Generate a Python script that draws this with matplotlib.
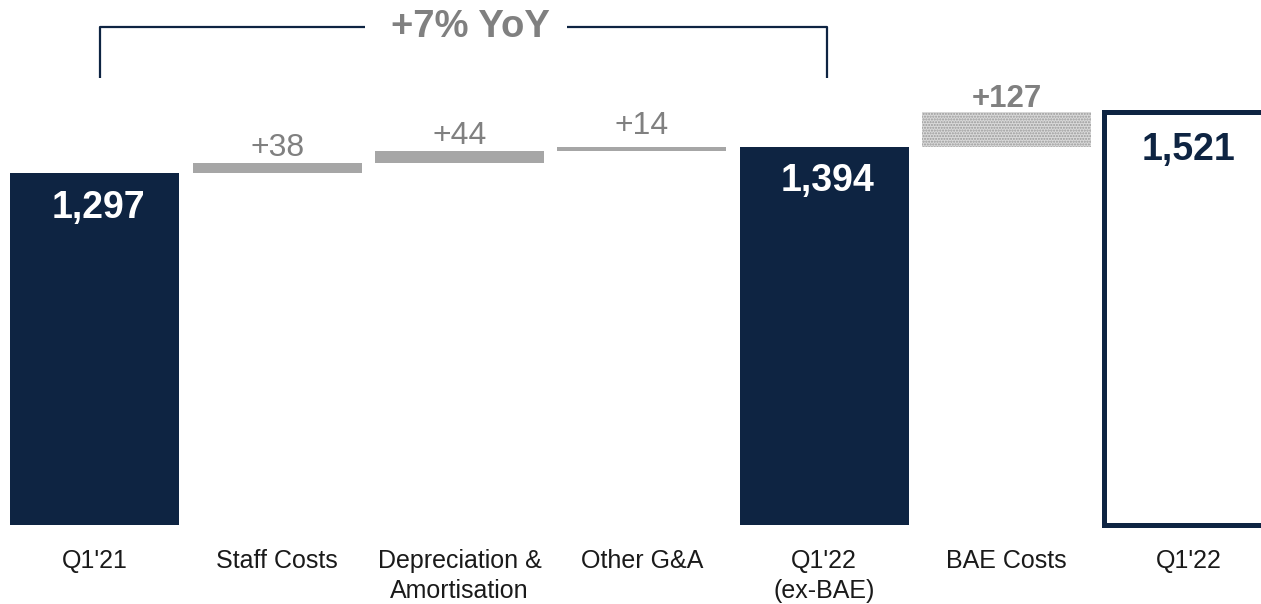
import numpy as np
import matplotlib.pyplot as plt

plt.rcParams['font.family'] = ['Liberation Sans', 'DejaVu Sans']

categories = ["Q1'21", "Staff Costs", "Depreciation &\nAmortisation", "Other G&A",
              "Q1'22\n(ex-BAE)", "BAE Costs", "Q1'22"]
totals = {0: 1297, 4: 1394, 6: 1521}
deltas = {1: 38, 2: 44, 3: 14, 5: 127}
delta_labels = {1: "+38", 2: "+44", 3: "+14", 5: "+127"}
total_labels = {0: "1,297", 4: "1,394", 6: "1,521"}
yoy_label = "+7% YoY"

navy = '#0E2442'
grey_bar = '#A6A6A6'
grey_text = '#808080'

fig = plt.figure(figsize=(12.61, 6.04), dpi=100)
ax = fig.add_axes([0, 0, 1, 1])
ax.set_xlim(-0.521, 6.396)
ax.set_ylim(-291, 1934)
ax.axis('off')

width = 0.927
x = np.arange(len(categories))

# floating bottoms for the delta bars
running = 0
bottoms = {}
for i in range(len(categories)):
    if i in totals:
        running = totals[i]
    else:
        bottoms[i] = running
        running += deltas[i]

for i in totals:
    if i == 6:
        ax.bar(x[i], totals[i], width=width, color='white', edgecolor=navy, linewidth=3.6)
        ax.annotate(total_labels[i], (x[i], totals[i]), xytext=(0, -27), textcoords='offset points',
                    ha='center', va='center', fontsize=27, fontweight='bold', color=navy)
    else:
        ax.bar(x[i], totals[i], width=width, color=navy, linewidth=0)
        ax.annotate(total_labels[i], (x[i], totals[i]), xytext=(2.5, -25), textcoords='offset points',
                    ha='center', va='center', fontsize=27, fontweight='bold', color='white')

label_gap = {1: 5, 2: 5, 3: 9, 5: 3.6}
for i in deltas:
    top = bottoms[i] + deltas[i]
    if i == 5:
        ax.bar(x[i], deltas[i], bottom=bottoms[i], width=width, color='#dadada',
               edgecolor='#999999', hatch='......', linewidth=0)
        ax.annotate(delta_labels[i], (x[i], top), xytext=(0, label_gap[i]), textcoords='offset points',
                    ha='center', va='baseline', fontsize=22.5, fontweight='bold', color=grey_text)
    else:
        ax.bar(x[i], deltas[i], bottom=bottoms[i], width=width, color=grey_bar, linewidth=0)
        ax.annotate(delta_labels[i], (x[i], top), xytext=(0, label_gap[i]), textcoords='offset points',
                    ha='center', va='baseline', fontsize=23, color=grey_text)

for i, cat in enumerate(categories):
    ax.annotate(cat, (x[i], 0), xytext=(0, -17), textcoords='offset points',
                ha='center', va='top', fontsize=18, color='#1a1a1a', linespacing=1.32)

# YoY bracket between Q1'21 and Q1'22 (ex-BAE)
br_top, br_bot = 1834, 1646
xl, xr = x[0] + 0.027, x[4] + 0.016
ax.plot([xl, xl, 1.48], [br_bot, br_top, br_top], color=navy, lw=1.6, solid_capstyle='butt')
ax.plot([2.59, xr, xr], [br_top, br_top, br_bot], color=navy, lw=1.6, solid_capstyle='butt')
ax.text(2.057, br_top, yoy_label, ha='center', va='center', fontsize=27.5, fontweight='bold', color=grey_text)

fig.savefig('out.png', dpi=100)
